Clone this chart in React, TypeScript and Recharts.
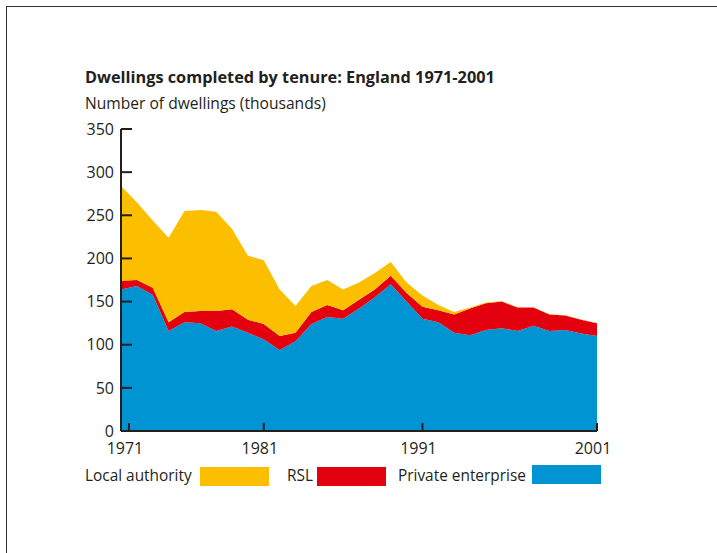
import { Area, AreaChart, XAxis, YAxis } from "recharts";

const YEARS = [
  1971, 1972, 1973, 1974, 1975, 1976, 1977, 1978, 1979, 1980, 1981, 1982, 1983, 1984, 1985, 1986,
  1987, 1988, 1989, 1990, 1991, 1992, 1993, 1994, 1995, 1996, 1997, 1998, 1999, 2000, 2001,
];
const PRIVATE = [
  164, 168, 158, 116, 126, 125, 116, 121, 114, 106, 94, 104, 124, 132, 130, 142, 155, 170, 150,
  130, 126, 114, 111, 117, 119, 116, 122, 116, 117, 113, 110,
];
const RSL = [
  10, 7, 8, 10, 12, 14, 23, 20, 15, 18, 16, 10, 14, 14, 10, 10, 9, 10, 10, 14, 14, 21, 31, 31, 31,
  27, 21, 19, 17, 16, 15,
];
const LOCAL = [
  110, 90, 78, 98, 117, 117, 115, 93, 74, 74, 54, 31, 30, 29, 24, 20, 19, 16, 12, 13, 6, 3, 1, 1,
  0.5, 0.3, 0.3, 0.2, 0.2, 0.2, 0.2,
];

// tick marks sit where the original put them, labels read the years
const X_TICKS = [1971.5, 1980, 1990, 2001];
const X_LABELS = ["1971", "1981", "1991", "2001"];
const Y_TICKS = [0, 50, 100, 150, 200, 250, 300, 350];

const SERIES = [
  { key: "local", name: "Local authority", color: "#fbbf00" },
  { key: "rsl", name: "RSL", color: "#e3000f" },
  { key: "priv", name: "Private enterprise", color: "#0094d3" },
];

// legend layout: left of label, left of swatch, top of swatch
const LEGEND_POS = [
  { text: 85, box: 200, top: 467 },
  { text: 287, box: 317, top: 467 },
  { text: 398, box: 532, top: 465 },
];

const data = YEARS.map((year, i) => ({
  year,
  priv: PRIVATE[i],
  rsl: RSL[i],
  local: LOCAL[i],
}));

const FONT = "'Open Sans', sans-serif";
const TEXT = "#231f20";
const AXIS = "#231f20";
const Y_GAP = 7;
const X_GAP = 12;

function YTick({ x, y, payload }: any) {
  const ax = x + Y_GAP;
  return (
    <g>
      <line x1={ax} x2={ax + 11} y1={y} y2={y} stroke={AXIS} strokeWidth={2} />
      <text x={x} y={y} dy="0.36em" textAnchor="end" fontSize={16} fill={TEXT} fontFamily={FONT}>
        {payload.value}
      </text>
    </g>
  );
}

function XTick({ x, y, index }: any) {
  const ay = y - X_GAP;
  return (
    <g>
      <line x1={x} x2={x} y1={ay} y2={ay - 8} stroke={AXIS} strokeWidth={2} />
      <text x={x - 4} y={y} dy="0.7em" textAnchor="middle" fontSize={16} fill={TEXT} fontFamily={FONT}>
        {X_LABELS[index]}
      </text>
    </g>
  );
}

export default function App() {
  const stackOrder = [...SERIES].reverse();
  return (
    <div
      style={{
        position: "fixed",
        left: 0,
        top: 0,
        width: 717,
        height: 553,
        overflow: "hidden",
        background: "#fff",
        fontFamily: FONT,
        color: TEXT,
      }}
    >
      <div
        style={{
          position: "absolute",
          left: 6,
          top: 6,
          width: 800,
          height: 700,
          borderLeft: "1px solid #333",
          borderTop: "1px solid #333",
        }}
      />
      <div style={{ position: "absolute", left: 85, top: 66, fontSize: 16.3, fontWeight: 700, whiteSpace: "nowrap" }}>
        Dwellings completed by tenure: England 1971-2001
      </div>
      <div style={{ position: "absolute", left: 85, top: 92, fontSize: 15.6, whiteSpace: "nowrap" }}>
        Number of dwellings (thousands)
      </div>

      <div style={{ position: "absolute", left: 0, top: 0 }}>
        <AreaChart
          width={717}
          height={553}
          data={data}
          margin={{ top: 129, right: 120, bottom: 92, left: 71 }}
        >
          <XAxis
            dataKey="year"
            type="number"
            domain={[1971, 2001]}
            ticks={X_TICKS}
            tickSize={0}
            tickMargin={X_GAP}
            tickLine={false}
            tick={<XTick />}
            axisLine={{ stroke: AXIS, strokeWidth: 2 }}
            height={30}
            interval={0}
          />
          <YAxis
            type="number"
            domain={[0, 350]}
            ticks={Y_TICKS}
            tickSize={0}
            tickMargin={Y_GAP}
            tickLine={false}
            tick={<YTick />}
            axisLine={{ stroke: AXIS, strokeWidth: 2 }}
            width={50}
            interval={0}
          />
          {stackOrder.map((s) => (
            <Area
              key={s.key}
              type="linear"
              dataKey={s.key}
              name={s.name}
              stackId="1"
              stroke="none"
              fill={s.color}
              fillOpacity={1}
              isAnimationActive={false}
            />
          ))}
        </AreaChart>
      </div>

      {SERIES.map((s, i) => {
        const p = LEGEND_POS[i];
        return (
          <div key={s.key}>
            <div
              style={{
                position: "absolute",
                left: p.text,
                top: 465,
                fontSize: 15.4,
                whiteSpace: "nowrap",
              }}
            >
              {s.name}
            </div>
            <div
              style={{
                position: "absolute",
                left: p.box,
                top: p.top,
                width: 69,
                height: 19,
                background: s.color,
              }}
            />
          </div>
        );
      })}
    </div>
  );
}
